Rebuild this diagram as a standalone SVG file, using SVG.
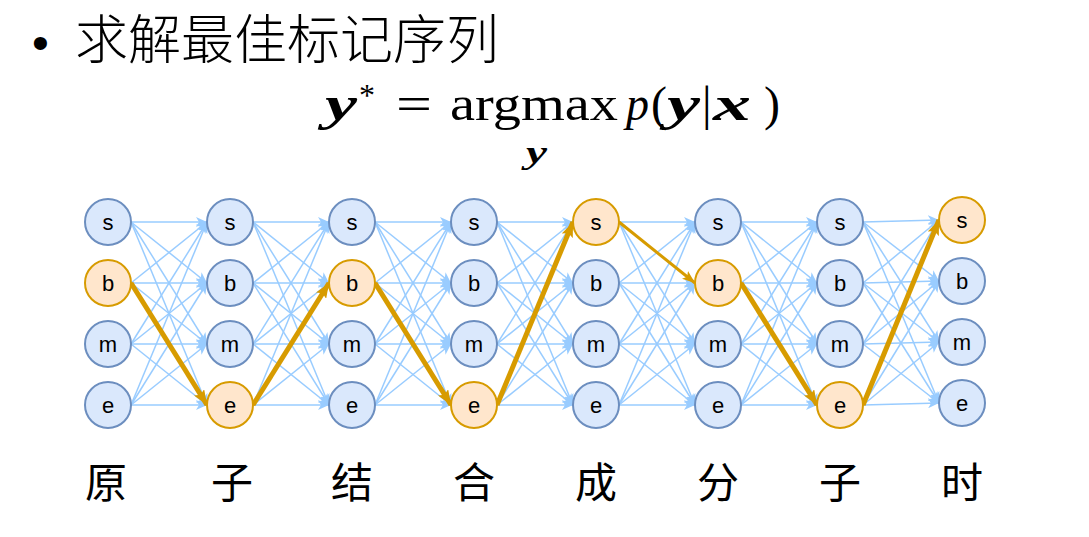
<svg xmlns="http://www.w3.org/2000/svg" width="1089" height="537" viewBox="0 0 1089 537">
<style>
.bg{fill:#ffffff}
.c{fill:none;stroke:#99ccff;stroke-width:1.5;marker-end:url(#ab)}
.h{fill:none;stroke:#d79b00;stroke-width:5;marker-end:url(#ao)}
.h2{fill:none;stroke:#d79b00;stroke-width:3;marker-end:url(#ao2)}
.n circle{fill:#dae8fc;stroke:#6c8ebf;stroke-width:2}
.n.o circle{fill:#ffe6cc;stroke:#d79b00}
.n text{font-family:"Liberation Sans",Arial,sans-serif;font-size:22px;fill:#000;text-anchor:middle}
.cjk{font-family:"Noto Sans CJK SC",sans-serif;fill:#000}
.m{font-family:"Liberation Serif","Times New Roman",serif;fill:#000;font-size:48px}
.bi{font-weight:bold;font-style:italic}
.it{font-style:italic}
.w{text-anchor:middle;font-size:42px;font-weight:400}
</style>
<defs>
<marker id="ab" markerUnits="userSpaceOnUse" markerWidth="12" markerHeight="10" refX="11" refY="5" orient="auto" viewBox="0 0 12 10"><path d="M0,0 L11,5 L0,10 L3,5 Z" fill="#99ccff"/></marker>
<marker id="ao" markerUnits="userSpaceOnUse" markerWidth="16" markerHeight="12" refX="15" refY="6" orient="auto" viewBox="0 0 16 12"><path d="M0,0 L15,6 L0,12 L3,6 Z" fill="#d79b00"/></marker>
<marker id="ao2" markerUnits="userSpaceOnUse" markerWidth="14" markerHeight="10" refX="13" refY="5" orient="auto" viewBox="0 0 14 10"><path d="M0,0 L13,5 L0,10 L3,5 Z" fill="#d79b00"/></marker>
</defs>
<rect class="bg" x="0" y="0" width="1089" height="537"/>

<g id="title">
<text x="32" y="59" font-family="Liberation Sans,Arial,sans-serif" font-size="48">•</text>
<text class="cjk" x="75" y="59" font-size="53" font-weight="300">求解最佳标记序列</text>
</g>

<g id="formula" class="m">
<text class="bi" x="325" y="120" textLength="32" lengthAdjust="spacingAndGlyphs">y</text>
<text x="359" y="106" font-size="32">*</text>
<text x="396" y="120" textLength="36" lengthAdjust="spacingAndGlyphs">=</text>
<text x="450" y="120" textLength="168" lengthAdjust="spacingAndGlyphs">argmax</text>
<text class="it" x="626" y="120" textLength="23" lengthAdjust="spacingAndGlyphs">p</text>
<text x="651" y="120">(</text>
<text class="bi" x="667" y="120" textLength="33" lengthAdjust="spacingAndGlyphs">y</text>
<text x="702" y="120">|</text>
<text class="bi" x="713" y="120" textLength="38" lengthAdjust="spacingAndGlyphs">x</text>
<text x="764" y="120">)</text>
<text class="bi" x="526" y="163" font-size="32" textLength="21" lengthAdjust="spacingAndGlyphs">y</text>
</g>

<g id="connectors">
<path class="c" d="M131 222L207 222"/><path class="c" d="M131 222L207 283"/><path class="c" d="M131 222L207 344"/><path class="c" d="M131 222L207 405"/>
<path class="c" d="M131 283L207 222"/><path class="c" d="M131 283L207 283"/><path class="c" d="M131 283L207 344"/>
<path class="c" d="M131 344L207 222"/><path class="c" d="M131 344L207 283"/><path class="c" d="M131 344L207 344"/><path class="c" d="M131 344L207 405"/>
<path class="c" d="M131 405L207 222"/><path class="c" d="M131 405L207 283"/><path class="c" d="M131 405L207 344"/><path class="c" d="M131 405L207 405"/>

<path class="c" d="M253 222L329 222"/><path class="c" d="M253 222L329 283"/><path class="c" d="M253 222L329 344"/><path class="c" d="M253 222L329 405"/>
<path class="c" d="M253 283L329 222"/><path class="c" d="M253 283L329 283"/><path class="c" d="M253 283L329 344"/><path class="c" d="M253 283L329 405"/>
<path class="c" d="M253 344L329 222"/><path class="c" d="M253 344L329 283"/><path class="c" d="M253 344L329 344"/><path class="c" d="M253 344L329 405"/>
<path class="c" d="M253 405L329 222"/><path class="c" d="M253 405L329 344"/><path class="c" d="M253 405L329 405"/>

<path class="c" d="M375 222L451 222"/><path class="c" d="M375 222L451 283"/><path class="c" d="M375 222L451 344"/><path class="c" d="M375 222L451 405"/>
<path class="c" d="M375 283L451 222"/><path class="c" d="M375 283L451 283"/><path class="c" d="M375 283L451 344"/>
<path class="c" d="M375 344L451 222"/><path class="c" d="M375 344L451 283"/><path class="c" d="M375 344L451 344"/><path class="c" d="M375 344L451 405"/>
<path class="c" d="M375 405L451 222"/><path class="c" d="M375 405L451 283"/><path class="c" d="M375 405L451 344"/><path class="c" d="M375 405L451 405"/>

<path class="c" d="M497 222L573 222"/><path class="c" d="M497 222L573 283"/><path class="c" d="M497 222L573 344"/><path class="c" d="M497 222L573 405"/>
<path class="c" d="M497 283L573 222"/><path class="c" d="M497 283L573 283"/><path class="c" d="M497 283L573 344"/><path class="c" d="M497 283L573 405"/>
<path class="c" d="M497 344L573 222"/><path class="c" d="M497 344L573 283"/><path class="c" d="M497 344L573 344"/><path class="c" d="M497 344L573 405"/>
<path class="c" d="M497 405L573 283"/><path class="c" d="M497 405L573 344"/><path class="c" d="M497 405L573 405"/>

<path class="c" d="M619 222L695 222"/><path class="c" d="M619 222L695 344"/><path class="c" d="M619 222L695 405"/>
<path class="c" d="M619 283L695 222"/><path class="c" d="M619 283L695 283"/><path class="c" d="M619 283L695 344"/><path class="c" d="M619 283L695 405"/>
<path class="c" d="M619 344L695 222"/><path class="c" d="M619 344L695 283"/><path class="c" d="M619 344L695 344"/><path class="c" d="M619 344L695 405"/>
<path class="c" d="M619 405L695 222"/><path class="c" d="M619 405L695 283"/><path class="c" d="M619 405L695 344"/><path class="c" d="M619 405L695 405"/>

<path class="c" d="M741 222L817 222"/><path class="c" d="M741 222L817 283"/><path class="c" d="M741 222L817 344"/><path class="c" d="M741 222L817 405"/>
<path class="c" d="M741 283L817 222"/><path class="c" d="M741 283L817 283"/><path class="c" d="M741 283L817 344"/>
<path class="c" d="M741 344L817 222"/><path class="c" d="M741 344L817 283"/><path class="c" d="M741 344L817 344"/><path class="c" d="M741 344L817 405"/>
<path class="c" d="M741 405L817 222"/><path class="c" d="M741 405L817 283"/><path class="c" d="M741 405L817 344"/><path class="c" d="M741 405L817 405"/>

<path class="c" d="M863 222L939 220"/><path class="c" d="M863 222L939 281"/><path class="c" d="M863 222L939 342"/><path class="c" d="M863 222L939 403"/>
<path class="c" d="M863 283L939 220"/><path class="c" d="M863 283L939 281"/><path class="c" d="M863 283L939 342"/><path class="c" d="M863 283L939 403"/>
<path class="c" d="M863 344L939 220"/><path class="c" d="M863 344L939 281"/><path class="c" d="M863 344L939 342"/><path class="c" d="M863 344L939 403"/>
<path class="c" d="M863 405L939 281"/><path class="c" d="M863 405L939 342"/><path class="c" d="M863 405L939 403"/>

<path class="h" d="M131 283L207 405"/>
<path class="h" d="M253 405L329 283"/>
<path class="h" d="M375 283L451 405"/>
<path class="h" d="M497 405L573 222"/>
<path class="h2" d="M619 222L695 283"/>
<path class="h" d="M741 283L817 405"/>
<path class="h" d="M863 405L939 220"/>
</g>

<g id="c0-s" class="n"><circle cx="108" cy="222" r="23"/><text x="108" y="230">s</text></g>
<g id="c0-b" class="n o"><circle cx="108" cy="283" r="23"/><text x="108" y="291">b</text></g>
<g id="c0-m" class="n"><circle cx="108" cy="344" r="23"/><text x="108" y="352">m</text></g>
<g id="c0-e" class="n"><circle cx="108" cy="405" r="23"/><text x="108" y="413">e</text></g>

<g id="c1-s" class="n"><circle cx="230" cy="222" r="23"/><text x="230" y="230">s</text></g>
<g id="c1-b" class="n"><circle cx="230" cy="283" r="23"/><text x="230" y="291">b</text></g>
<g id="c1-m" class="n"><circle cx="230" cy="344" r="23"/><text x="230" y="352">m</text></g>
<g id="c1-e" class="n o"><circle cx="230" cy="405" r="23"/><text x="230" y="413">e</text></g>

<g id="c2-s" class="n"><circle cx="352" cy="222" r="23"/><text x="352" y="230">s</text></g>
<g id="c2-b" class="n o"><circle cx="352" cy="283" r="23"/><text x="352" y="291">b</text></g>
<g id="c2-m" class="n"><circle cx="352" cy="344" r="23"/><text x="352" y="352">m</text></g>
<g id="c2-e" class="n"><circle cx="352" cy="405" r="23"/><text x="352" y="413">e</text></g>

<g id="c3-s" class="n"><circle cx="474" cy="222" r="23"/><text x="474" y="230">s</text></g>
<g id="c3-b" class="n"><circle cx="474" cy="283" r="23"/><text x="474" y="291">b</text></g>
<g id="c3-m" class="n"><circle cx="474" cy="344" r="23"/><text x="474" y="352">m</text></g>
<g id="c3-e" class="n o"><circle cx="474" cy="405" r="23"/><text x="474" y="413">e</text></g>

<g id="c4-s" class="n o"><circle cx="596" cy="222" r="23"/><text x="596" y="230">s</text></g>
<g id="c4-b" class="n"><circle cx="596" cy="283" r="23"/><text x="596" y="291">b</text></g>
<g id="c4-m" class="n"><circle cx="596" cy="344" r="23"/><text x="596" y="352">m</text></g>
<g id="c4-e" class="n"><circle cx="596" cy="405" r="23"/><text x="596" y="413">e</text></g>

<g id="c5-s" class="n"><circle cx="718" cy="222" r="23"/><text x="718" y="230">s</text></g>
<g id="c5-b" class="n o"><circle cx="718" cy="283" r="23"/><text x="718" y="291">b</text></g>
<g id="c5-m" class="n"><circle cx="718" cy="344" r="23"/><text x="718" y="352">m</text></g>
<g id="c5-e" class="n"><circle cx="718" cy="405" r="23"/><text x="718" y="413">e</text></g>

<g id="c6-s" class="n"><circle cx="840" cy="222" r="23"/><text x="840" y="230">s</text></g>
<g id="c6-b" class="n"><circle cx="840" cy="283" r="23"/><text x="840" y="291">b</text></g>
<g id="c6-m" class="n"><circle cx="840" cy="344" r="23"/><text x="840" y="352">m</text></g>
<g id="c6-e" class="n o"><circle cx="840" cy="405" r="23"/><text x="840" y="413">e</text></g>

<g id="c7-s" class="n o"><circle cx="962" cy="220" r="23"/><text x="962" y="228">s</text></g>
<g id="c7-b" class="n"><circle cx="962" cy="281" r="23"/><text x="962" y="289">b</text></g>
<g id="c7-m" class="n"><circle cx="962" cy="342" r="23"/><text x="962" y="350">m</text></g>
<g id="c7-e" class="n"><circle cx="962" cy="403" r="23"/><text x="962" y="411">e</text></g>

<g id="words" class="cjk w">
<text x="106" y="498">原</text>
<text x="232" y="498">子</text>
<text x="352" y="498">结</text>
<text x="474" y="498">合</text>
<text x="596" y="498">成</text>
<text x="718" y="498">分</text>
<text x="840" y="498">子</text>
<text x="962" y="498">时</text>
</g>
</svg>
